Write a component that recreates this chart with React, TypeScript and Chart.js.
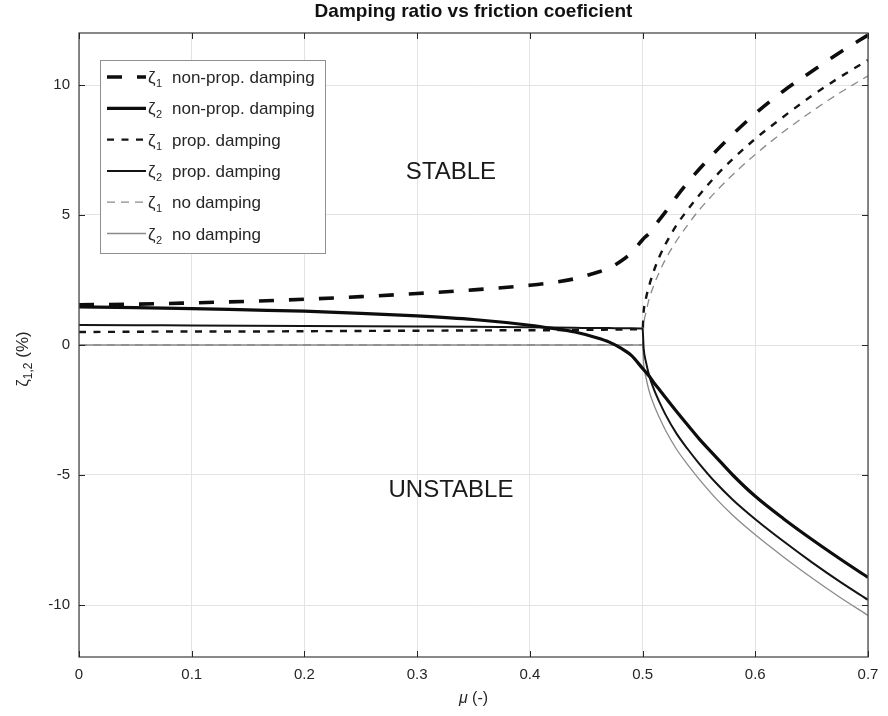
import { useEffect, useRef } from "react";
import { Chart, registerables } from "chart.js";

Chart.register(...registerables);

// ---------------- data ----------------
const MU = [
  0, 0.05, 0.1, 0.15, 0.2, 0.25, 0.3, 0.35, 0.4, 0.42, 0.44, 0.46, 0.47, 0.48, 0.49, 0.5,
  0.501, 0.503, 0.506, 0.51, 0.515, 0.52, 0.53, 0.54, 0.55, 0.565, 0.58, 0.6, 0.625, 0.65, 0.675, 0.7,
];

const ZETA1_NONPROP = [
  1.55, 1.57, 1.62, 1.68, 1.76, 1.86, 1.98, 2.12, 2.3, 2.4, 2.55, 2.8, 2.95, 3.2, 3.55, 4.05,
  4.1, 4.18, 4.3, 4.55, 4.82, 5.1, 5.7, 6.25, 6.75, 7.45, 8.1, 8.9, 9.77, 10.52, 11.25, 11.92,
];

const ZETA2_NONPROP = [
  1.47, 1.44, 1.4, 1.35, 1.3, 1.22, 1.12, 0.98, 0.76, 0.64, 0.5, 0.27, 0.12, -0.1, -0.4, -0.9,
  -0.95, -1.05, -1.2, -1.45, -1.72, -2.0, -2.55, -3.08, -3.6, -4.3, -5.0, -5.82, -6.68, -7.47, -8.22, -8.94,
];

const ZETA1_PROP = [
  0.5, 0.51, 0.52, 0.52, 0.53, 0.54, 0.55, 0.56, 0.57, 0.57, 0.58, 0.58, 0.59, 0.59, 0.6, 0.6,
  1.3, 1.8, 2.3, 2.85, 3.4, 3.85, 4.6, 5.2, 5.75, 6.5, 7.15, 7.93, 8.78, 9.58, 10.3, 10.96,
];

const ZETA2_PROP = [
  0.77, 0.76, 0.75, 0.74, 0.73, 0.72, 0.71, 0.7, 0.68, 0.67, 0.66, 0.65, 0.65, 0.64, 0.64, 0.63,
  -0.15, -0.65, -1.2, -1.7, -2.2, -2.65, -3.4, -4.0, -4.55, -5.3, -5.95, -6.7, -7.55, -8.35, -9.1, -9.8,
];

const ZETA1_NODAMP = [
  0, 0, 0, 0, 0, 0, 0, 0, 0, 0, 0, 0, 0, 0, 0, 0,
  0.75, 1.25, 1.8, 2.3, 2.82, 3.27, 4.0, 4.62, 5.18, 5.9, 6.55, 7.33, 8.2, 8.98, 9.7, 10.35,
];

const ZETA2_NODAMP = [
  0, 0, 0, 0, 0, 0, 0, 0, 0, 0, 0, 0, 0, 0, 0, 0,
  -0.75, -1.25, -1.8, -2.3, -2.8, -3.25, -4.0, -4.6, -5.15, -5.9, -6.55, -7.3, -8.15, -8.95, -9.7, -10.4,
];

const SERIES_NAMES = [
  "non-prop. damping",
  "non-prop. damping",
  "prop. damping",
  "prop. damping",
  "no damping",
  "no damping",
];
const SERIES_SUBS = ["1", "2", "1", "2", "1", "2"];

const X_TICKS = [0, 0.1, 0.2, 0.3, 0.4, 0.5, 0.6, 0.7];
const X_TICK_LABELS = ["0", "0.1", "0.2", "0.3", "0.4", "0.5", "0.6", "0.7"];
const Y_TICKS = [-10, -5, 0, 5, 10];
const Y_TICK_LABELS = ["-10", "-5", "0", "5", "10"];

const TITLE = "Damping ratio vs friction coeficient";
const X_LABEL_SYMBOL = "μ";
const X_LABEL_REST = " (-)";
const Y_LABEL_SYMBOL = "ζ";
const Y_LABEL_SUB = "1,2";
const Y_LABEL_REST = " (%)";
const ANNOT_STABLE = "STABLE";
const ANNOT_UNSTABLE = "UNSTABLE";

const FONT = '"Liberation Sans", Arial, Helvetica, sans-serif';
const AXIS_COLOR = "#262626";

const pts = (ys: number[]) => MU.map((x, i) => ({ x, y: ys[i] }));

// ---------------- plugins ----------------
const framePlugin = {
  id: "matlabFrame",
  afterDatasetsDraw(chart: any) {
    const { ctx, chartArea: a, scales } = chart;
    ctx.save();
    ctx.strokeStyle = "#4a4a4a";
    ctx.lineWidth = 1.3;
    ctx.setLineDash([]);
    ctx.strokeRect(a.left, a.top, a.right - a.left, a.bottom - a.top);
    ctx.strokeStyle = AXIS_COLOR;
    ctx.lineWidth = 1;
    const tl = 6;
    X_TICKS.forEach((v) => {
      const px = Math.round(scales.x.getPixelForValue(v)) + 0.5;
      ctx.beginPath();
      ctx.moveTo(px, a.bottom);
      ctx.lineTo(px, a.bottom - tl);
      ctx.moveTo(px, a.top);
      ctx.lineTo(px, a.top + tl);
      ctx.stroke();
    });
    Y_TICKS.forEach((v) => {
      const py = Math.round(scales.y.getPixelForValue(v)) + 0.5;
      ctx.beginPath();
      ctx.moveTo(a.left, py);
      ctx.lineTo(a.left + tl, py);
      ctx.moveTo(a.right, py);
      ctx.lineTo(a.right - tl, py);
      ctx.stroke();
    });
    ctx.restore();
  },
};

const annotPlugin = {
  id: "annotations",
  afterDraw(chart: any) {
    const { ctx, chartArea: a } = chart;
    ctx.save();
    ctx.setLineDash([]);

    ctx.fillStyle = "#1a1a1a";
    ctx.font = `24px ${FONT}`;
    ctx.textAlign = "center";
    ctx.textBaseline = "middle";
    ctx.fillText(ANNOT_STABLE, 451, 172);
    ctx.fillText(ANNOT_UNSTABLE, 451, 490);

    ctx.fillStyle = "#111";
    ctx.font = `bold 19px ${FONT}`;
    ctx.textAlign = "center";
    ctx.textBaseline = "alphabetic";
    ctx.fillText(TITLE, (a.left + a.right) / 2, 17);

    ctx.fillStyle = AXIS_COLOR;
    ctx.textAlign = "left";
    ctx.font = `italic 16px ${FONT}`;
    const wMu = ctx.measureText(X_LABEL_SYMBOL).width;
    ctx.font = `16px ${FONT}`;
    const wRest = ctx.measureText(X_LABEL_REST).width;
    const xs = (a.left + a.right) / 2 - (wMu + wRest) / 2;
    ctx.font = `italic 16px ${FONT}`;
    ctx.fillText(X_LABEL_SYMBOL, xs, 703);
    ctx.font = `16px ${FONT}`;
    ctx.fillText(X_LABEL_REST, xs + wMu, 703);

    ctx.translate(22, 359);
    ctx.rotate(-Math.PI / 2);
    ctx.font = `17px ${FONT}`;
    const wZ = ctx.measureText(Y_LABEL_SYMBOL).width;
    const wR = ctx.measureText(Y_LABEL_REST).width;
    ctx.font = `12px ${FONT}`;
    const wS = ctx.measureText(Y_LABEL_SUB).width;
    let yx = -(wZ + wS + wR) / 2;
    ctx.font = `17px ${FONT}`;
    ctx.fillText(Y_LABEL_SYMBOL, yx, 6);
    yx += wZ;
    ctx.font = `12px ${FONT}`;
    ctx.fillText(Y_LABEL_SUB, yx, 10);
    yx += wS;
    ctx.font = `17px ${FONT}`;
    ctx.fillText(Y_LABEL_REST, yx, 6);
    ctx.restore();

    ctx.save();
    const bx = 100.5, by = 60.5, bw = 225, bh = 193;
    ctx.fillStyle = "#ffffff";
    ctx.fillRect(bx, by, bw, bh);
    ctx.strokeStyle = "#8f8f8f";
    ctx.lineWidth = 1;
    ctx.strokeRect(bx, by, bw, bh);
    chart.data.datasets.forEach((ds: any, i: number) => {
      const y = 77 + i * 31.3;
      ctx.beginPath();
      ctx.setLineDash(ds.borderDash || []);
      ctx.lineDashOffset = 0;
      ctx.lineWidth = ds.borderWidth;
      ctx.strokeStyle = ds.borderColor;
      ctx.moveTo(107, y);
      ctx.lineTo(146, y);
      ctx.stroke();
      ctx.setLineDash([]);
      ctx.fillStyle = AXIS_COLOR;
      ctx.textAlign = "left";
      ctx.textBaseline = "alphabetic";
      ctx.font = `17px ${FONT}`;
      ctx.fillText("ζ", 148, y + 6);
      const wz = ctx.measureText("ζ").width;
      ctx.font = `11px ${FONT}`;
      ctx.fillText(SERIES_SUBS[i], 148 + wz + 0.5, y + 10);
      ctx.font = `17px ${FONT}`;
      ctx.fillText(SERIES_NAMES[i], 172, y + 6);
    });
    ctx.restore();
  },
};

// ---------------- component ----------------
export default function App() {
  const ref = useRef<HTMLCanvasElement | null>(null);

  useEffect(() => {
    if (!ref.current) return;
    const mk = (ys: number[], color: string, width: number, dash: number[]) => ({
      label: "",
      data: pts(ys),
      borderColor: color,
      backgroundColor: color,
      borderWidth: width,
      borderDash: dash,
      pointRadius: 0,
      fill: false,
      cubicInterpolationMode: "monotone",
    });
    const datasets = [
      mk(ZETA1_NONPROP, "#0d0d0d", 3.6, [15, 15]),
      mk(ZETA2_NONPROP, "#0d0d0d", 3.2, []),
      mk(ZETA1_PROP, "#141414", 2.4, [7, 7.5]),
      mk(ZETA2_PROP, "#141414", 2.0, []),
      mk(ZETA1_NODAMP, "#8a8a8a", 1.3, [8, 6]),
      mk(ZETA2_NODAMP, "#8a8a8a", 1.3, []),
    ];
    datasets.forEach((d, i) => (d.label = `ζ${SERIES_SUBS[i]} ${SERIES_NAMES[i]}`));

    const chart = new Chart(ref.current, {
      type: "line",
      data: { datasets },
      options: {
        animation: false,
        responsive: false,
        events: [],
        layout: { padding: { top: 33, right: 20, left: 0, bottom: 0 } },
        plugins: {
          legend: { display: false },
          title: { display: false },
          tooltip: { enabled: false },
        },
        scales: {
          x: {
            type: "linear",
            min: 0,
            max: 0.7,
            afterBuildTicks: (s: any) => {
              s.ticks = X_TICKS.map((v) => ({ value: v }));
            },
            afterFit: (s: any) => {
              s.height = 59;
            },
            ticks: {
              autoSkip: false,
              maxRotation: 0,
              padding: 9,
              color: AXIS_COLOR,
              font: { family: FONT, size: 15 },
              callback: (_v: any, i: number) => X_TICK_LABELS[i],
            },
            grid: { color: "#e3e3e3", lineWidth: 1, drawTicks: false },
            border: { display: false },
          },
          y: {
            type: "linear",
            min: -12,
            max: 12,
            afterBuildTicks: (s: any) => {
              s.ticks = Y_TICKS.map((v) => ({ value: v }));
            },
            afterFit: (s: any) => {
              s.width = 79;
            },
            ticks: {
              autoSkip: false,
              padding: 9,
              color: AXIS_COLOR,
              font: { family: FONT, size: 15 },
              callback: (_v: any, i: number) => Y_TICK_LABELS[i],
            },
            grid: { color: "#e3e3e3", lineWidth: 1, drawTicks: false },
            border: { display: false },
          },
        },
      },
      plugins: [framePlugin, annotPlugin],
    } as any);
    return () => chart.destroy();
  }, []);

  return (
    <div style={{ position: "absolute", left: 0, top: 0, width: 888, height: 716, background: "#fff" }}>
      <canvas ref={ref} width={888} height={716} style={{ display: "block" }} />
    </div>
  );
}
